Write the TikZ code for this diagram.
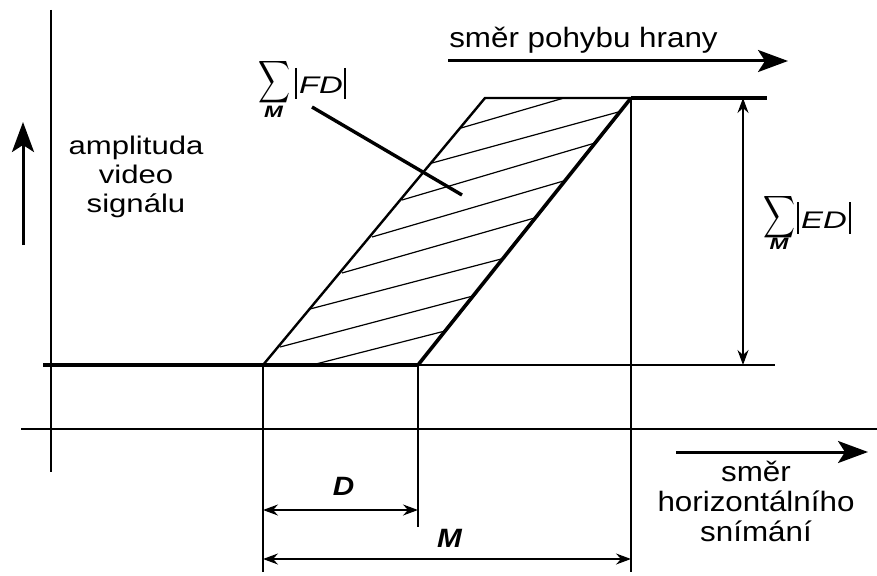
\documentclass[tikz,border=0pt]{standalone}
\usepackage{graphicx}
\usepackage{fontspec}
\setmainfont{Liberation Sans}
\newfontfamily\fAmp{Liberation Sans}[FakeStretch=1.22]
\newfontfamily\fDir{Liberation Sans}[FakeStretch=1.12]
\newfontfamily\fSum{Liberation Sans}[FakeStretch=1.37]
\usetikzlibrary{arrows.meta}
\tikzset{
  thinline/.style={line width=1.7pt},
  edgeline/.style={line width=2.4pt, line join=miter},
  thickline/.style={line width=3.4pt},
  hatch/.style={line width=1.2pt},
  barline/.style={line width=1.3pt},
  dimarrow/.style={line width=1.5pt, {Stealth[length=15pt,width=11pt,inset=5pt]}-{Stealth[length=15pt,width=11pt,inset=5pt]}},
  dirarrow/.style={line width=3pt, -{Stealth[length=30pt,width=22pt,inset=7pt]}},
  amplbl/.style={inner sep=0pt, font=\fAmp\fontsize{25.5}{29}\selectfont, align=center},
  dirlbl/.style={inner sep=0pt, font=\fDir\fontsize{28}{30}\selectfont, align=center},
  dimlbl/.style={inner sep=0pt, font=\fDir\fontsize{26.5}{27}\selectfont\bfseries\itshape},
  sumsign/.style={inner sep=0pt},
  sumsub/.style={inner sep=0pt, font=\fSum\fontsize{16.5}{16.5}\selectfont\bfseries\itshape},
  sumtxt/.style={inner sep=0pt, anchor=base, font=\fSum\fontsize{24}{24}\selectfont\itshape}
}
\newcommand{\bigsum}{\resizebox{32pt}{31pt}{$\displaystyle\sum$}}
\begin{document}
\begin{tikzpicture}[x=1pt,y=-1pt]
\useasboundingbox (0,0) rectangle (877,575);
% key points
\coordinate (bl) at (263,365);
\coordinate (tl) at (485,98);
\coordinate (tr) at (631,98);
\coordinate (br) at (418,365);
\coordinate (topend) at (767,98);
\coordinate (basestart) at (43,365);
\coordinate (baseend) at (775,365);
% axes
\coordinate (yaxTop) at (51,10);
\coordinate (yaxBot) at (51,472);
\coordinate (xaxL) at (21,429);
\coordinate (xaxR) at (877,429);
\draw[thinline] (yaxTop) -- (yaxBot);
\draw[thinline] (xaxL) -- (xaxR);
% baseline and top
\draw[thickline] (basestart) -- (br);
\draw[thinline] (br) -- (baseend);
\draw[thickline] (tr) -- (topend);
% parallelogram
\draw[edgeline] (bl) -- (tl) -- (tr);
\draw[line width=3.6pt] (br) -- (tr);
% hatching
\draw[hatch] (312,365) -- (445,331);
\draw[hatch] (280,347) -- (473,296);
\draw[hatch] (310,309) -- (505,258);
\draw[hatch] (342,273) -- (538,217);
\draw[hatch] (372,237) -- (567,180);
\draw[hatch] (402,200) -- (595,143);
\draw[hatch] (432,163) -- (622,111);
\draw[hatch] (461,128) -- (564,98);
% verticals
\coordinate (v1) at (263,572);
\coordinate (v2) at (418,527);
\coordinate (v3) at (631,572);
\draw[thinline] (bl) -- (v1);
\draw[thinline] (br) -- (v2);
\draw[thinline] (tr) -- (v3);
% dimension arrows
\coordinate (dL) at (263,510);
\coordinate (dR) at (418,510);
\coordinate (mL) at (263,559);
\coordinate (mR) at (631,559);
\coordinate (eT) at (743,98);
\coordinate (eB) at (743,365);
\draw[dimarrow] (dL) -- (dR);
\draw[dimarrow] (mL) -- (mR);
\draw[dimarrow] (eT) -- (eB);
% direction arrows
\coordinate (upS) at (23,245);
\coordinate (upE) at (23,122);
\coordinate (topS) at (448,61);
\coordinate (topE) at (788,61);
\coordinate (scS) at (676,452);
\coordinate (scE) at (868,452);
\draw[dirarrow] (upS) -- (upE);
\draw[dirarrow] (topS) -- (topE);
\draw[dirarrow] (scS) -- (scE);
% labels
\node[amplbl] (amp) at (136,177) {amplituda\\video\\signálu};
\node[dirlbl, anchor=base] (pohyb) at (583.5,48) {směr pohybu hrany};
\node[dirlbl] (snim) at (756,501) {směr\\horizontálního\\snímání};
\node[dimlbl] (Dl) at (343.5,486.5) {D};
\node[dimlbl] (Ml) at (449.5,538.5) {M};
% sum FD
\node[sumsign] (fdsum) at (274,82.5) {\bigsum};
\node[sumsub] (fdM) at (273.5,112) {M};
\node[sumtxt] (fdtxt) at (321,94) {FD};
\coordinate (fdb1t) at (296,68); \coordinate (fdb1b) at (296,99);
\coordinate (fdb2t) at (345,68); \coordinate (fdb2b) at (345,99);
\draw[barline] (fdb1t) -- (fdb1b);
\draw[barline] (fdb2t) -- (fdb2b);
% sum ED
\node[sumsign] (edsum) at (779,217.5) {\bigsum};
\node[sumsub] (edM) at (779,244) {M};
\node[sumtxt] (edtxt) at (824,228) {ED};
\coordinate (edb1t) at (798,202); \coordinate (edb1b) at (798,234);
\coordinate (edb2t) at (850,202); \coordinate (edb2b) at (850,234);
\draw[barline] (edb1t) -- (edb1b);
\draw[barline] (edb2t) -- (edb2b);
% leader
\coordinate (ldS) at (312,107);
\coordinate (ldE) at (462,195);
\draw[thickline] (ldS) -- (ldE);
\end{tikzpicture}
\end{document}
